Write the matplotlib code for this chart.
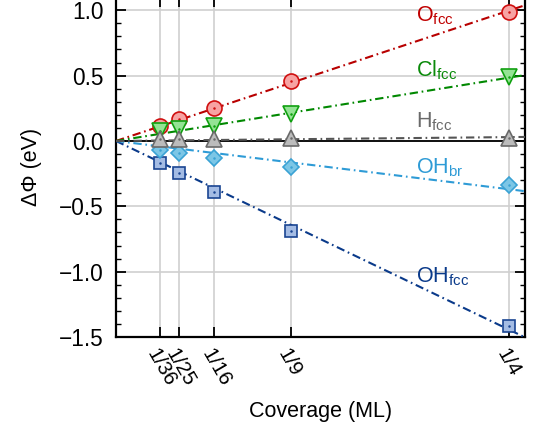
import numpy as np
import matplotlib
matplotlib.use("Agg")
import matplotlib.pyplot as plt
from matplotlib.ticker import MultipleLocator

plt.rcParams['font.family'] = ['Liberation Sans', 'DejaVu Sans']
plt.rcParams['mathtext.fontset'] = 'custom'
plt.rcParams['mathtext.rm'] = 'Liberation Sans'

# Coverage (ML) and tick labels
coverage = [1/36, 1/25, 1/16, 1/9, 1/4]
coverage_labels = ['1/36', '1/25', '1/16', '1/9', '1/4']

# Work function change (eV) per adsorbate
dphi_O_fcc = [0.115, 0.166, 0.25, 0.459, 0.99]
dphi_Cl_fcc = [0.075, 0.09, 0.115, 0.204, 0.487]
dphi_H_fcc = [0.013, 0.013, 0.012, 0.022, 0.022]
dphi_OH_br = [-0.066, -0.089, -0.127, -0.201, -0.337]
dphi_OH_fcc = [-0.168, -0.247, -0.388, -0.686, -1.415]

series_names = ['OH$_{\\rm fcc}$', 'OH$_{\\rm br}$', 'O$_{\\rm fcc}$', 'Cl$_{\\rm fcc}$', 'H$_{\\rm fcc}$']
series_values = [dphi_OH_fcc, dphi_OH_br, dphi_O_fcc, dphi_Cl_fcc, dphi_H_fcc]

styles = [
    dict(marker='s', ms=9.2, line='#0a3a8a', edge='#1a4592', face='#a4bce4', text='#0a3a8a'),
    dict(marker='D', ms=8.4, line='#2e9bd6', edge='#3aa2d4', face='#7cc6e6', text='#2e9bd6'),
    dict(marker='o', ms=10.8, line='#b80000', edge='#d01010', face='#f7a3a3', text='#c00000'),
    dict(marker='v', ms=11.4, line='#008800', edge='#10a010', face='#94e394', text='#0a8a0a'),
    dict(marker='^', ms=11.4, line='#555555', edge='#6a6a6a', face='#bcbcbc', text='#6a6a6a'),
]
label_y = [-1.086, -0.245, 0.913, 0.497, 0.107]
label_x = 0.191

fig = plt.figure(figsize=(5.38, 4.26), dpi=100)
ax = fig.add_axes([0.2156, 0.2089, 0.7602, 0.7977])

xmin, xmax = 0.0, 0.26
ymin, ymax = -1.5, 1.1
ax.set_xlim(xmin, xmax)
ax.set_ylim(ymin, ymax)

ax.axhline(0.0, color='black', lw=1.3, zorder=2)

xs = np.array(coverage)
xfit = np.array([0.0, xmax])
for name, vals, st, ly in zip(series_names, series_values, styles, label_y):
    ys = np.array(vals)
    # least-squares slope of a line through the origin
    slope = np.sum(xs * ys) / np.sum(xs * xs)
    ax.plot(xfit, slope * xfit, color=st['line'], lw=1.5, zorder=3,
            dashes=[4.0, 1.8, 0.8, 1.8])
    ax.plot(xs, ys, ls='none', marker=st['marker'], ms=st['ms'],
            mfc=st['face'], mec=st['edge'], mew=1.2, zorder=4, clip_on=False)
    ax.plot(xs, ys, ls='none', marker='.', ms=1.6, color=st['edge'], zorder=4,
            clip_on=False)
    ax.text(label_x, ly, name, color=st['text'], fontsize=15.5,
            ha='left', va='baseline')

ax.set_xticks(coverage)
ax.set_xticklabels(coverage_labels, rotation=-60, ha='left', va='top',
                   rotation_mode='anchor', fontsize=14.8)
ax.yaxis.set_minor_locator(MultipleLocator(0.1))
ax.set_yticks([-1.5, -1.0, -0.5, 0.0, 0.5, 1.0])
ax.set_yticklabels(['\u22121.5', '\u22121.0', '\u22120.5', '0.0', '0.5', '1.0'],
                   fontsize=16.3)

ax.tick_params(axis='both', which='major', direction='in', length=7, width=1.3,
               top=True, right=True)
ax.tick_params(axis='y', which='minor', direction='in', length=3.3, width=1.0,
               left=True, right=True)
ax.tick_params(axis='x', which='major', pad=6)
ax.tick_params(axis='y', which='major', pad=9)

ax.grid(True, which='major', color='#cfcfcf', lw=1.2, zorder=0)
ax.set_axisbelow(True)
for sp in ax.spines.values():
    sp.set_linewidth(1.6)

ax.set_xlabel('Coverage (ML)', fontsize=15.5, labelpad=8)
ax.set_ylabel('\u0394\u03a6 (eV)', fontsize=15.5, labelpad=12)

fig.savefig('out.png', dpi=100)
